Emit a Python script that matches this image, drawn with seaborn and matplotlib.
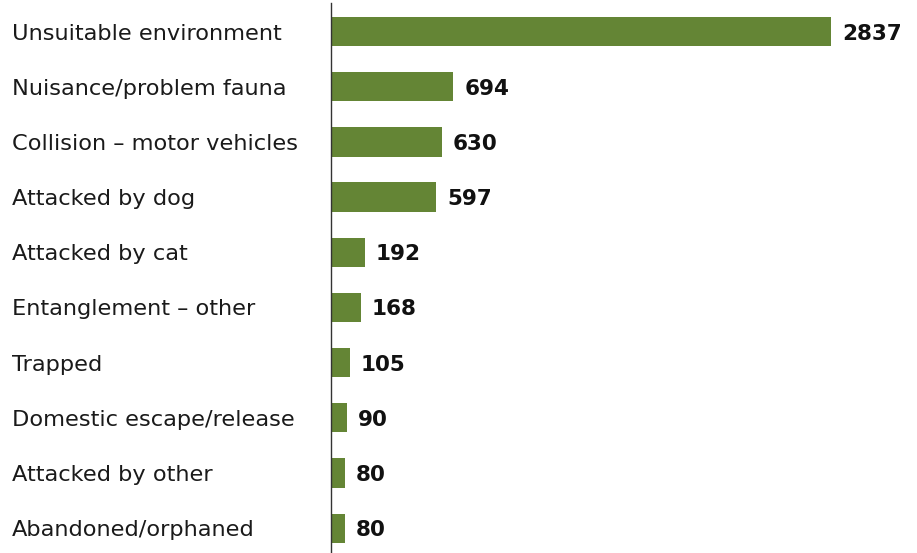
import matplotlib
matplotlib.use("Agg")
import matplotlib.pyplot as plt
import seaborn as sns
import pandas as pd

categories = ["Unsuitable environment", "Nuisance/problem fauna", "Collision – motor vehicles",
              "Attacked by dog", "Attacked by cat", "Entanglement – other", "Trapped",
              "Domestic escape/release", "Attacked by other", "Abandoned/orphaned"]
values = [2837, 694, 630, 597, 192, 168, 105, 90, 80, 80]

sns.set_theme(style="white")
plt.rcParams['font.family'] = ['DejaVu Sans']

df = pd.DataFrame({"cat": categories, "val": values})

fig = plt.figure(figsize=(9.17, 5.53), dpi=100)
W, H = 917, 553
ax = fig.add_axes([331 / W, 0, (917 - 331) / W, (553 - 3) / H])
sns.barplot(data=df, x="val", y="cat", color="#648535", saturation=1, width=0.53,
            linewidth=0, ax=ax)

xmax = 586 / 500 * 2837
ax.set_xlim(0, xmax)
ax.set_ylim(9.45, -0.517)
for s in ["top", "right", "bottom"]:
    ax.spines[s].set_visible(False)
ax.spines["left"].set_color("#333333")
ax.spines["left"].set_linewidth(1.0)
ax.set_xticks([])
ax.set_xlabel("")
ax.set_ylabel("")
ax.tick_params(axis="y", length=0, pad=0)
ax.set_yticks(range(len(categories)))
ax.set_yticklabels([])
off = 8 / 55.1
for i, c in enumerate(categories):
    ax.text(-319 / 586 * xmax, i + off, c, ha="left", va="baseline", fontsize=16.2, color="#1a1a1a")
for i, v in enumerate(values):
    ax.text(v + 11 / 500 * 2837, i + off, str(v), ha="left", va="baseline", fontsize=15.5,
            fontweight="bold", color="#111111")

fig.savefig("out.png", dpi=100)
